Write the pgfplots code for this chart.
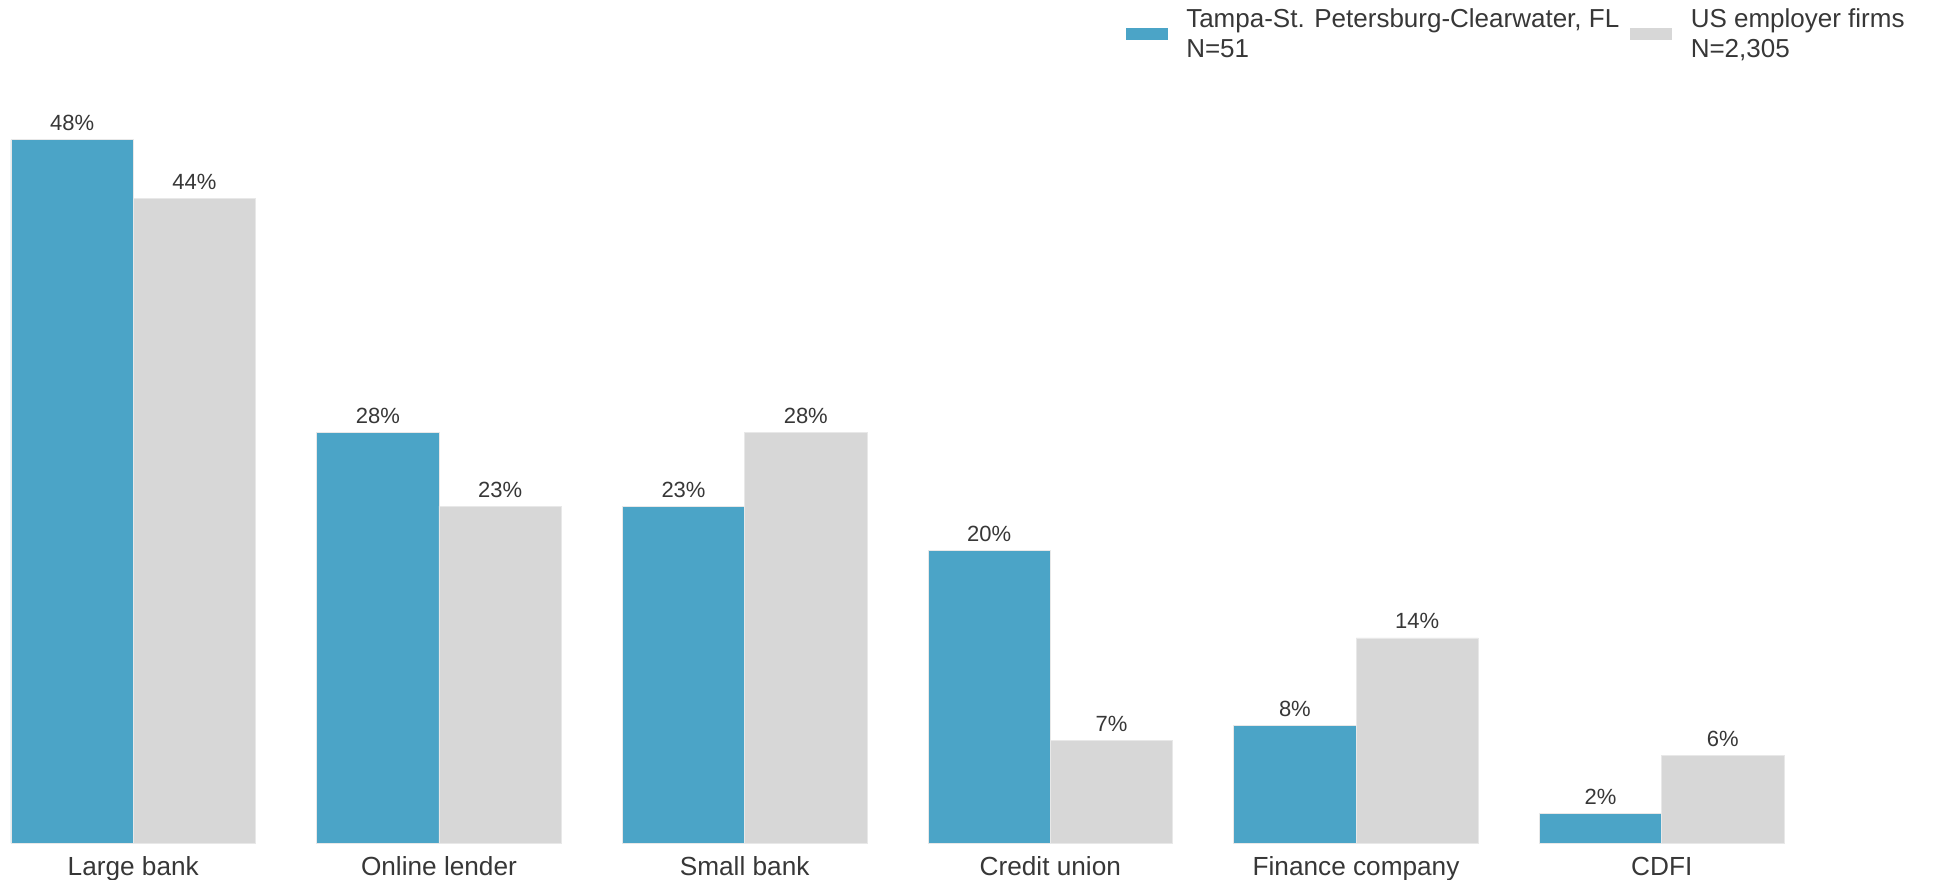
\documentclass[border=0pt]{standalone}
\usepackage{fontspec}
\setmainfont{Liberation Sans}
\usepackage{pgfplots}
\pgfplotsset{compat=1.18}
\definecolor{tampablue}{RGB}{75,164,199}
\definecolor{usgray}{RGB}{215,215,215}
\definecolor{txt}{RGB}{55,55,55}
\definecolor{edge}{RGB}{232,232,232}
\begin{document}
\begin{tikzpicture}
\useasboundingbox (0,0) rectangle (968.5pt,439.5pt);
\begin{axis}[
  at={(5.5pt,18pt)}, anchor=south west,
  scale only axis, width=886.5pt, height=366.25pt,
  xmin=-0.4, xmax=5.4, ymin=0, ymax=50,
  enlargelimits=false, clip=false,
  axis line style={draw=none},
  major tick style={draw=none},
  ytick=\empty,
  xtick={0,1,2,3,4,5},
  xticklabels={Large bank, Online lender, Small bank, Credit union, Finance company, CDFI},
  xticklabel style={font=\fontsize{13.1}{16}\selectfont, text=txt, anchor=base, inner sep=0pt, yshift=-12pt},
  ybar=0pt, bar width=0.4,
  /pgf/number format/assume math mode=true,
  nodes near coords={\pgfmathprintnumber{\pgfplotspointmeta}\%},
  every node near coord/.append style={font=\fontsize{11}{13}\selectfont, text=txt, anchor=base, inner sep=0pt, yshift=4.5pt},
  legend columns=2,
  legend style={at={(1.0705,1.1454)}, anchor=north east, draw=none, fill=none, inner sep=0pt,
    font=\fontsize{13}{15}\selectfont, text=txt,
    cells={anchor=west, align=left, inner sep=0pt},
    /tikz/every odd column/.append style={column sep=7.25pt},
    /tikz/every even column/.append style={column sep=3.5pt}},
  legend image code/.code={\path[#1, draw=none] (0pt,-3pt) rectangle (21pt,3pt);},
]
\addplot[fill=tampablue, draw=edge, line width=0.4pt, bar shift=-0.2]
  coordinates {(0,48) (1,28) (2,23) (3,20) (4,8) (5,2)};
\addlegendentry{Tampa-St. Petersburg-Clearwater, FL\\N=51}
\addplot[fill=usgray, draw=edge, line width=0.4pt, bar shift=0.2]
  coordinates {(0,44) (1,23) (2,28) (3,7) (4,14) (5,6)};
\addlegendentry{US employer firms\\N=2,305}
\end{axis}
\end{tikzpicture}
\end{document}
